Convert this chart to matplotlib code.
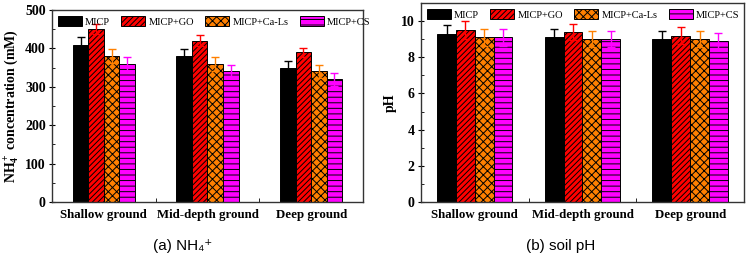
import matplotlib
matplotlib.use("Agg")
import matplotlib.pyplot as plt
import numpy as np
from matplotlib.ticker import MultipleLocator, FixedLocator

# ─── données ────────────────────────────────────────────────────────────────
GROUPS = ["Shallow ground", "Mid-depth ground", "Deep ground"]
SERIES = ["MICP", "MICP+GO", "MICP+Ca-Ls", "MICP+CS"]

NH4_MEAN = {
    "MICP":       [410, 380, 350],
    "MICP+GO":    [450, 420, 390],
    "MICP+Ca-Ls": [380, 360, 340],
    "MICP+CS":    [360, 340, 320],
}
NH4_ERR = {
    "MICP":       [20, 19, 17],
    "MICP+GO":    [13, 14, 12],
    "MICP+Ca-Ls": [19, 18, 17],
    "MICP+CS":    [18, 17, 17],
}
PH_MEAN = {
    "MICP":       [9.3, 9.1, 9.0],
    "MICP+GO":    [9.5, 9.4, 9.2],
    "MICP+Ca-Ls": [9.1, 9.0, 9.0],
    "MICP+CS":    [9.1, 9.0, 8.9],
}
PH_ERR = {
    "MICP":       [0.46, 0.46, 0.45],
    "MICP+GO":    [0.48, 0.46, 0.47],
    "MICP+Ca-Ls": [0.48, 0.45, 0.45],
    "MICP+CS":    [0.48, 0.45, 0.46],
}

# ─── style ───────────────────────────────────────────────────────────────────
COLORS = ["#000000", "#FF0000", "#FF8000", "#FF00FF"]
HATCHES = [None, "//////", "xxxx", "---"]
XTICK_FS = 9.3
YTICK_FS = 10
LABEL_FS = 10

plt.rcParams["font.family"] = ["Liberation Serif", "DejaVu Serif"]
plt.rcParams["font.weight"] = "bold"
plt.rcParams["mathtext.fontset"] = "custom"
plt.rcParams["mathtext.rm"] = "Liberation Serif:bold"
plt.rcParams["mathtext.it"] = "Liberation Serif:bold"
plt.rcParams["mathtext.bf"] = "Liberation Serif:bold"
plt.rcParams["hatch.linewidth"] = 0.7
plt.rcParams["axes.linewidth"] = 1.0


def draw_panel(ax, means, errs, bar_w, ylim, major, minor, ylabel):
    x = np.arange(1, len(GROUPS) + 1)
    handles = []
    for i, name in enumerate(SERIES):
        pos = x + (i - 1.5) * bar_w
        b = ax.bar(pos, means[name], bar_w, color=COLORS[i], edgecolor="black",
                   hatch=HATCHES[i], linewidth=0.7, label=name, zorder=2)
        ax.errorbar(pos, means[name], yerr=errs[name], fmt="none",
                    ecolor=COLORS[i], elinewidth=1, capsize=3, capthick=1, zorder=3)
        handles.append(b)

    ax.set_xlim(0.5, 3.5)
    ax.set_ylim(*ylim)
    ax.set_xticks(x)
    ax.set_xticklabels(GROUPS, fontsize=XTICK_FS, fontweight="bold")
    ax.tick_params(axis="x", which="major", length=0, pad=5)
    ax.xaxis.set_minor_locator(FixedLocator([1.5, 2.5]))
    ax.tick_params(axis="x", which="minor", direction="in", length=3)
    ax.yaxis.set_major_locator(MultipleLocator(major))
    ax.yaxis.set_minor_locator(MultipleLocator(minor))
    ax.tick_params(axis="y", which="major", direction="inout", length=5,
                   labelsize=YTICK_FS, pad=2)
    ax.tick_params(axis="y", which="minor", direction="in", length=2)
    for lab in ax.get_yticklabels():
        lab.set_fontweight("bold")
    ax.set_ylabel(ylabel, fontsize=LABEL_FS, fontweight="bold", labelpad=3)
    for s in ax.spines.values():
        s.set_color("#333333")

    ax.legend(handles, SERIES, loc="upper left", bbox_to_anchor=(0.0, 1.0),
              ncol=4, frameon=False, borderaxespad=0.15, handlelength=2.3,
              handleheight=1.2, handletextpad=0.3, columnspacing=1.1,
              prop={"family": "Liberation Serif", "weight": "normal", "size": 7.5})


fig = plt.figure(figsize=(7.46, 2.64), dpi=100)
ax1 = fig.add_axes([0.0697, 0.2348, 0.4169, 0.7273])
ax2 = fig.add_axes([0.5643, 0.2348, 0.4330, 0.7538])

draw_panel(ax1, NH4_MEAN, NH4_ERR, 0.15, (0, 500), 100, 50,
           "NH$_4^+$ concentration (mM)")
draw_panel(ax2, PH_MEAN, PH_ERR, 0.175, (0, 11), 2, 1, "pH")

cap_font = dict(family=["Liberation Sans", "DejaVu Sans"], weight="normal",
                size=11, ha="center", va="center")
fig.text(0.245, 0.07, "(a) NH\u2084\u207a", **cap_font)
fig.text(0.752, 0.07, "(b) soil pH", **cap_font)

fig.savefig("out.png", dpi=100)
